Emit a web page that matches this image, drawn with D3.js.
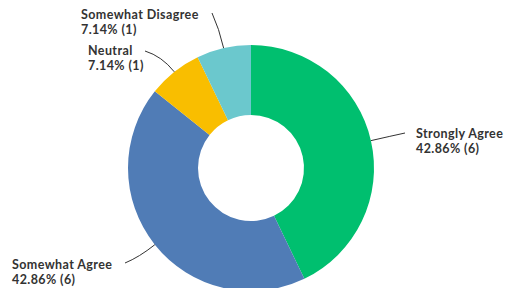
<!DOCTYPE html>
<html>
<head>
<meta charset="utf-8">
<script src="https://cdn.jsdelivr.net/npm/d3@7"></script>
<style>
  body { margin: 0; background: #fff; }
  .lbl { font-family: Lato, sans-serif; font-weight: 700; font-size: 12.5px; letter-spacing: 0.4px; fill: #333; }
</style>
</head>
<body>
<div class="chart"></div>
<script>
// answer categories, in the order the slices run clockwise from 12 o'clock
var categories = ["Strongly Agree", "Somewhat Agree", "Neutral", "Somewhat Disagree"];
var counts = [6, 6, 1, 1];
var percents = ["42.86%", "42.86%", "7.14%", "7.14%"];
var colors = ["#00BF6F", "#507CB6", "#F9BE00", "#6BC8CD"];

// where each label sits (text x, first baseline) and where its leader meets it
var labelLayout = [
    { x: 416, y: 138, lx: 405, ly: 133 },
    { x: 12, y: 269, lx: 125, ly: 263 },
    { x: 88, y: 55, lx: 145, ly: 51 },
    { x: 81, y: 19, lx: 212, ly: 13 }
];
var lineGap = 15.2;

var svgWidth = 506;
var svgHeight = 288;
var cx = 251, cy = 168;
var outerR = 123, innerR = 53;

var svg = d3.select(".chart")
    .append("svg")
    .attr("width", svgWidth)
    .attr("height", svgHeight);

var pieGroup = svg.append("g")
    .attr("transform", `translate(${cx}, ${cy})`);

var pie = d3.pie().sort(null).value(d => d);
var arcs = pie(counts);

var arc = d3.arc().innerRadius(innerR).outerRadius(outerR);
var edgeArc = d3.arc().innerRadius(outerR).outerRadius(outerR);
var bendArc = d3.arc().innerRadius(outerR + 20).outerRadius(outerR + 20);

//slices
pieGroup.selectAll("path.slice")
    .data(arcs)
    .enter()
    .append("path")
    .attr("class", "slice")
    .attr("d", arc)
    .attr("fill", (d, i) => colors[i]);

//leader lines: out from the middle of each slice edge, curving to the label
svg.selectAll("path.leader")
    .data(arcs)
    .enter()
    .append("path")
    .attr("class", "leader")
    .attr("fill", "none")
    .attr("stroke", "#333")
    .attr("stroke-width", 1)
    .attr("d", function(d, i) {
        var p = d3.path();
        var a = edgeArc.centroid(d);
        var b = bendArc.centroid(d);
        p.moveTo(cx + a[0], cy + a[1]);
        p.quadraticCurveTo(cx + b[0], cy + b[1], labelLayout[i].lx, labelLayout[i].ly);
        return p.toString();
    });

//labels: name on the first line, percent and count below
svg.selectAll("text.name")
    .data(categories)
    .enter()
    .append("text")
    .attr("class", "lbl name")
    .attr("x", (d, i) => labelLayout[i].x)
    .attr("y", (d, i) => labelLayout[i].y)
    .text(d => d);

svg.selectAll("text.value")
    .data(categories)
    .enter()
    .append("text")
    .attr("class", "lbl value")
    .attr("x", (d, i) => labelLayout[i].x)
    .attr("y", (d, i) => labelLayout[i].y + lineGap)
    .text((d, i) => `${percents[i]} (${counts[i]})`);
</script>
</body>
</html>
